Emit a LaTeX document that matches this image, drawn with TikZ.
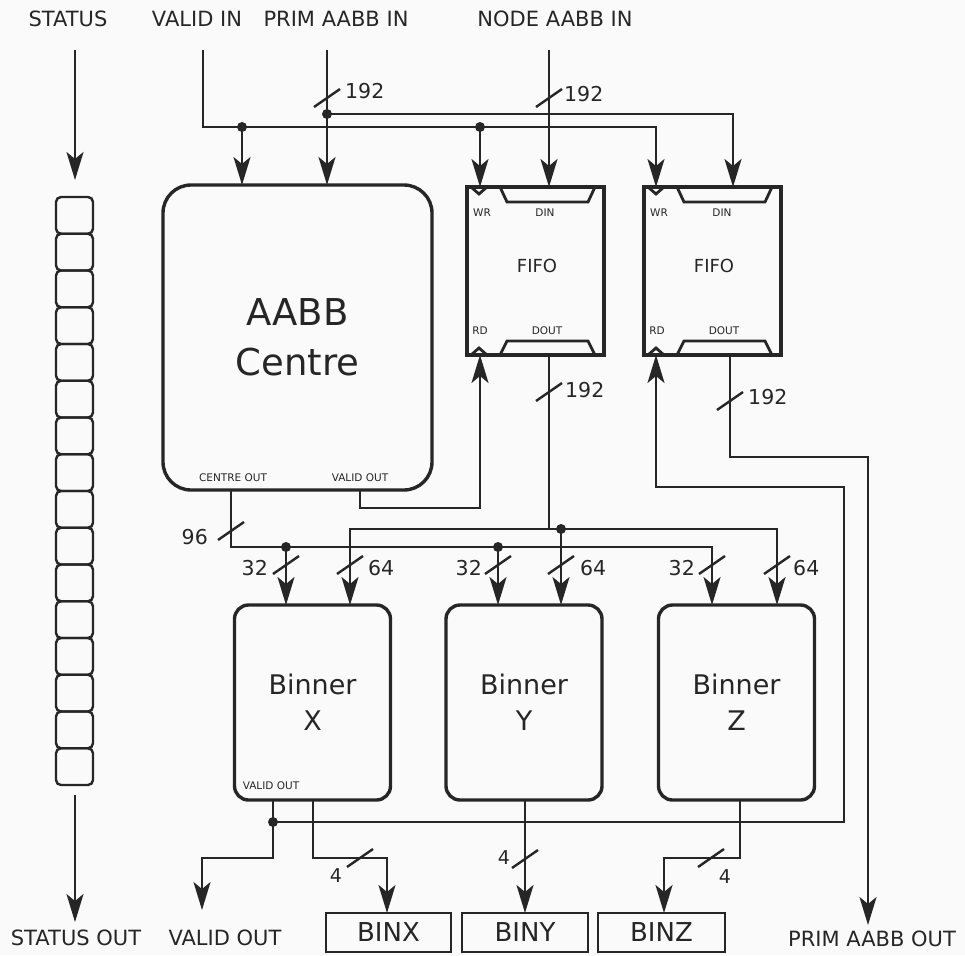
\documentclass[tikz,border=0pt]{standalone}
\usepackage{fontspec}
\setmainfont{DejaVu Sans}
\usetikzlibrary{arrows.meta}
\definecolor{ink}{HTML}{262626}
\definecolor{bg}{HTML}{FAFAFA}
\begin{document}
\begin{tikzpicture}[x=1pt,y=-1pt,
  wire/.style={draw=ink,line width=2.4pt,line join=miter},
  arr/.style={-{Stealth[length=28pt,width=17pt,inset=7pt]}},
  arrb/.style={{Stealth[length=28pt,width=17pt,inset=7pt]}-{Stealth[length=28pt,width=17pt,inset=7pt]}},
  big/.style={font=\fontsize{21}{25}\selectfont,text=ink,inner sep=0pt},
  num/.style={font=\fontsize{20.5}{24}\selectfont,text=ink,inner sep=0pt},
  numsm/.style={font=\fontsize{19}{22}\selectfont,text=ink,inner sep=0pt},
  tiny/.style={font=\fontsize{10.5}{12}\selectfont,text=ink,inner sep=0pt},
  blk/.style={draw=ink,line width=3.4pt,rectangle,inner sep=0pt,outer sep=0pt,text=ink},
  cell/.style={draw=ink,line width=2.4pt,rounded corners=5pt,minimum width=37pt,minimum height=36.75pt,inner sep=0pt,outer sep=0pt},
  jdot/.style={circle,fill=ink,inner sep=0pt,minimum size=10pt},
  outbox/.style={draw=ink,line width=2.8pt,minimum height=39pt,inner sep=0pt,outer sep=0pt,font=\fontsize{26}{30}\selectfont,text=ink},
  binner/.style={blk,rounded corners=14pt,minimum width=156pt,minimum height=195pt,align=center,font=\fontsize{27}{36}\selectfont},
  slashmark/.style={draw=ink,line width=2.4pt},
  fifodeco/.pic={
    \draw[ink,line width=2.8pt,line join=miter] (4,0) -- (12,7) -- (20,0);
    \draw[ink,line width=2.8pt,line join=miter] (33,0) -- (40,15) -- (121,15) -- (128,0);
    \draw[ink,line width=2.8pt,line join=miter] (4,168) -- (12,161) -- (20,168);
    \draw[ink,line width=2.8pt,line join=miter] (33,168) -- (40,154) -- (121,154) -- (128,168);
    \node[tiny] at (15,26) {WR};
    \node[tiny] at (78,26) {DIN};
    \node[tiny] at (13,144) {RD};
    \node[tiny] at (80,144) {DOUT};
  }
]
\fill[bg] (0,0) rectangle (965,955);
\useasboundingbox (0,0) rectangle (965,955);

% ---------- top labels ----------
\node[big] (tStatus) at (68,19) {STATUS};
\node[big] (tValidIn) at (197,19) {VALID IN};
\node[big] (tPrimIn) at (336,19) {PRIM AABB IN};
\node[big] (tNodeIn) at (555,19) {NODE AABB IN};

% ---------- bottom labels ----------
\node[big] (tStatusOut) at (76,938) {STATUS OUT};
\node[big] (tValidOut) at (225,938) {VALID OUT};
\node[big] (tPrimOut) at (872,939) {PRIM AABB OUT};

% ---------- status register ----------
\foreach \i in {1,...,16} {
  \node[cell] (s\i) at (74.5,{197+36.75*(\i-0.5)}) {};
}

% ---------- blocks ----------
\node[blk,rounded corners=28pt,minimum width=269pt,minimum height=305pt,
      font=\fontsize{37}{50}\selectfont,align=center] (aabb) at (297.5,337.5) {AABB\\Centre};
\node[tiny] (lCentreOut) at (233,478) {CENTRE OUT};
\node[tiny] (lValidOut) at (360,478) {VALID OUT};

\node[blk,minimum width=137pt,minimum height=168pt] (fifo1) at (535.5,271) {};
\node[font=\fontsize{18}{20}\selectfont,text=ink,inner sep=0pt] (fifo1t) at (537,266) {FIFO};
\pic at (467,187) {fifodeco};
\node[blk,minimum width=137pt,minimum height=168pt] (fifo2) at (712.5,271) {};
\node[font=\fontsize{18}{20}\selectfont,text=ink,inner sep=0pt] (fifo2t) at (714,266) {FIFO};
\pic at (644,187) {fifodeco};

\node[binner] (binx) at (312.5,702.5) {Binner\\X};
\node[binner] (biny) at (524,702.5) {Binner\\Y};
\node[binner] (binz) at (736.5,702.5) {Binner\\Z};
\node[tiny] (lBxValid) at (271,786) {VALID OUT};

\node[outbox,minimum width=125pt] (binxo) at (388.5,932.5) {BINX};
\node[outbox,minimum width=126pt] (binyo) at (525,932.5) {BINY};
\node[outbox,minimum width=127pt] (binzo) at (661.5,932.5) {BINZ};

% ---------- status connectors ----------
\coordinate (stIn) at (75,50);
\coordinate (stTip) at (75,180);
\draw[wire,arr] (stIn) -- (stTip);
\coordinate (soStart) at (75,795);
\coordinate (soTip) at (75,922);
\draw[wire,arr] (soStart) -- (soTip);

% ---------- valid in ----------
\coordinate (viTop) at (203,50);
\coordinate (viCorner) at (203,127);
\coordinate (viF2) at (656,127);
\draw[wire,arr] (viTop) -- (viCorner) -- (viF2) -- (viF2 |- fifo2.north);
\node[jdot] (dVA) at (242,127) {};
\node[jdot] (dVF) at (480,127) {};
\draw[wire,arr] (dVA.center) -- (dVA.center |- aabb.north);
\draw[wire,arr] (dVF.center) -- (dVF.center |- fifo1.north);

% ---------- prim aabb in ----------
\coordinate (piTop) at (327,50);
\draw[wire,arr] (piTop) -- (piTop |- aabb.north);
\node[jdot] (dPI) at (327,114) {};
\coordinate (piF2) at (733,114);
\draw[wire,arr] (dPI.center) -- (piF2) -- (piF2 |- fifo2.north);
\coordinate (slPI) at (327,98);
\draw[slashmark] (slPI) ++(-13,9) -- ++(26,-18);
\node[num,anchor=west] (nPI) at (345,91) {192};

% ---------- node aabb in ----------
\coordinate (niTop) at (549,50);
\draw[wire,arr] (niTop) -- (niTop |- fifo1.north);
\coordinate (slNI) at (549,98);
\draw[slashmark] (slNI) ++(-13,9) -- ++(26,-18);
\node[num,anchor=west] (nNI) at (564,94) {192};

% ---------- centre out (32 bus) ----------
\coordinate (coTop) at (231,490);
\coordinate (coCorner) at (231,547);
\coordinate (coEnd) at (712,547);
\draw[wire,arr] (coTop) -- (coCorner) -- (coEnd) -- (coEnd |- binz.north);
\node[jdot] (dC1) at (286,547) {};
\node[jdot] (dC2) at (498,547) {};
\draw[wire,arr] (dC1.center) -- (dC1.center |- binx.north);
\draw[wire,arr] (dC2.center) -- (dC2.center |- biny.north);
\coordinate (sl96) at (231,531);
\draw[slashmark] (sl96) ++(-13,9) -- ++(26,-18);
\node[num,anchor=east] (n96) at (208,537) {96};
\foreach \xx/\lx [count=\k] in {286/268,498/482,712/695} {
  \coordinate (sl32-\k) at (\xx,565);
  \draw[slashmark] (sl32-\k) ++(-13,9) -- ++(26,-18);
  \node[num,anchor=east] (n32-\k) at (\lx,568) {32};
}

% ---------- aabb valid out -> fifo1 rd ----------
\coordinate (voTop) at (360,490);
\coordinate (voA) at (360,508);
\coordinate (voB) at (480,508);
\draw[wire,arr] (voTop) -- (voA) -- (voB) -- (voB |- fifo1.south);

% ---------- fifo1 dout (64 bus) ----------
\coordinate (f1o) at (549,355);
\coordinate (f1oBus) at (549,529);
\draw[wire] (f1o) -- (f1oBus);
\coordinate (dbL) at (350,529);
\coordinate (dbR) at (777,529);
\draw[wire,arrb] (dbL |- binx.north) -- (dbL) -- (dbR) -- (dbR |- binz.north);
\node[jdot] (dD) at (561,529) {};
\draw[wire,arr] (dD.center) -- (dD.center |- biny.north);
\coordinate (slF1) at (549,392);
\draw[slashmark] (slF1) ++(-13,9) -- ++(26,-18);
\node[num,anchor=west] (nF1) at (565,390) {192};
\foreach \xx/\lx [count=\k] in {350/368,561/580,777/793} {
  \coordinate (sl64-\k) at (\xx,565);
  \draw[slashmark] (sl64-\k) ++(-13,9) -- ++(26,-18);
  \node[num,anchor=west] (n64-\k) at (\lx,568) {64};
}

% ---------- fifo2 dout -> prim aabb out ----------
\coordinate (f2o) at (730,355);
\coordinate (f2a) at (730,457);
\coordinate (f2b) at (868,457);
\coordinate (f2Tip) at (868,925);
\draw[wire,arr] (f2o) -- (f2a) -- (f2b) -- (f2Tip);
\coordinate (slF2) at (730,401);
\draw[slashmark] (slF2) ++(-13,9) -- ++(26,-18);
\node[num,anchor=west] (nF2) at (748,397) {192};

% ---------- binner x valid out ----------
\coordinate (bxv) at (273,800);
\coordinate (bxvA) at (273,858);
\coordinate (bxvB) at (202,858);
\coordinate (bxvTip) at (202,910);
\draw[wire,arr] (bxv) -- (bxvA) -- (bxvB) -- (bxvTip);
\node[jdot] (dBV) at (273,822) {};
\coordinate (rdA) at (844,822);
\coordinate (rdB) at (844,487);
\coordinate (rdC) at (656,487);
\draw[wire,arr] (dBV.center) -- (rdA) -- (rdB) -- (rdC) -- (rdC |- fifo2.south);

% ---------- bin outputs ----------
\coordinate (bxo) at (313,800);
\coordinate (bxoA) at (313,858);
\coordinate (bxoB) at (387,858);
\draw[wire,arr] (bxo) -- (bxoA) -- (bxoB) -- (bxoB |- binxo.north);
\coordinate (sl4x) at (360,858);
\draw[slashmark] (sl4x) ++(-13,9) -- ++(26,-18);
\node[numsm] (n4x) at (336,876) {4};

\coordinate (byo) at (525,800);
\draw[wire,arr] (byo) -- (byo |- binyo.north);
\coordinate (sl4y) at (525,859);
\draw[slashmark] (sl4y) ++(-13,9) -- ++(26,-18);
\node[numsm] (n4y) at (504,858) {4};

\coordinate (bzo) at (740,800);
\coordinate (bzoA) at (740,858);
\coordinate (bzoB) at (664,858);
\draw[wire,arr] (bzo) -- (bzoA) -- (bzoB) -- (bzoB |- binzo.north);
\coordinate (sl4z) at (711,858);
\draw[slashmark] (sl4z) ++(-13,9) -- ++(26,-18);
\node[numsm] (n4z) at (725,877) {4};
\end{tikzpicture}
\end{document}
